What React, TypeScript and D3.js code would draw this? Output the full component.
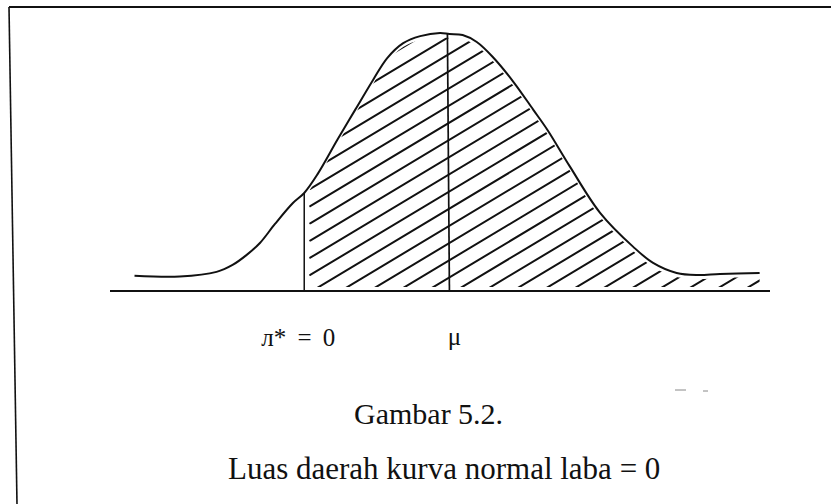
import React from "react";
import * as d3 from "d3";

// Standardised position (z) and relative height of the drawn normal curve
const curveZ = [-3.34, -2.86, -2.47, -2.3, -2.15, -2.01, -1.85, -1.66, -1.54, -1.4, -1.19, -1.0, -0.81, -0.66, -0.49, -0.31, -0.1, 0.0, 0.14, 0.29, 0.46, 0.68, 0.89, 1.04, 1.28, 1.6, 1.95, 2.16, 2.41, 2.63, 2.87, 3.29];
const curveH = [0.059, 0.056, 0.074, 0.101, 0.14, 0.186, 0.26, 0.341, 0.38, 0.452, 0.585, 0.702, 0.818, 0.903, 0.961, 0.988, 1.0, 0.996, 0.992, 0.965, 0.907, 0.81, 0.702, 0.624, 0.481, 0.302, 0.171, 0.109, 0.07, 0.062, 0.066, 0.07];

// Break-even point (profit = 0) and the mean
const cutZ = -1.54;
const meanZ = 0;

const cutLabel = "л* = 0";
const meanLabel = "μ";
const captionTitle = "Gambar 5.2.";
const captionText = "Luas daerah kurva normal laba = 0";

const W = 831;
const H = 504;
const FONT = "'Liberation Serif', 'Times New Roman', serif";

export default function App() {
  const x = d3.scaleLinear().domain([-3.6, 3.4]).range([110, 770]);
  const y = d3.scaleLinear().domain([0, 1]).range([291, 33]);

  const pts = curveZ.map((z, i) => ({ z, h: curveH[i] }));
  const line = d3
    .line<{ z: number; h: number }>()
    .x((d) => x(d.z))
    .y((d) => y(d.h))
    .curve(d3.curveCatmullRom.alpha(0.5));

  const cutH = pts.find((p) => p.z === cutZ)!.h;
  const meanH = pts.find((p) => p.z === meanZ)!.h;

  // shaded region right of the break-even point, inset slightly from its edges
  const shaded = pts.filter((p) => p.z >= cutZ - 0.2);
  const clipArea = d3
    .area<{ z: number; h: number }>()
    .x((d) => x(d.z))
    .y0(() => y(0) - 4)
    .y1((d) => y(d.h) + 4)
    .curve(d3.curveCatmullRom.alpha(0.5));

  // diagonal hatching
  const slope = 0.6;
  const step = 17.2;
  const refX = x(meanZ);
  const hatch: { x1: number; y1: number; x2: number; y2: number }[] = [];
  for (let k = -30; k < 40; k++) {
    const yAtRef = 157 + step * k;
    const x1 = x(cutZ) + 6;
    const x2 = x(3.4);
    hatch.push({
      x1,
      y1: yAtRef + slope * (refX - x1),
      x2,
      y2: yAtRef - slope * (x2 - refX),
    });
  }

  return (
    <svg
      width={W}
      height={H}
      style={{ position: "absolute", left: 0, top: 0, background: "#fff" }}
    >
      <defs>
        <clipPath id="shade-clip">
          <path d={clipArea(shaded) ?? ""} />
        </clipPath>
      </defs>

      {/* frame */}
      <line x1={9} y1={7} x2={W} y2={7} stroke="#111" strokeWidth={2.2} />
      <line x1={9} y1={7} x2={17} y2={H} stroke="#111" strokeWidth={1.6} />

      {/* hatching */}
      <g clipPath="url(#shade-clip)">
        {hatch.map((l, i) => (
          <line
            key={i}
            x1={l.x1}
            y1={l.y1}
            x2={l.x2}
            y2={l.y2}
            stroke="#111"
            strokeWidth={2}
            strokeLinecap="round"
          />
        ))}
      </g>

      {/* axis */}
      <line x1={x(-3.6)} y1={y(0)} x2={x(3.4)} y2={y(0)} stroke="#111" strokeWidth={2.2} />

      {/* normal curve */}
      <path d={line(pts) ?? ""} fill="none" stroke="#111" strokeWidth={2} />

      {/* break-even and mean markers */}
      <line x1={x(cutZ)} y1={y(0)} x2={x(cutZ)} y2={y(cutH)} stroke="#111" strokeWidth={1.5} />
      <line x1={x(meanZ)} y1={y(0)} x2={x(meanZ) - 2} y2={y(meanH)} stroke="#111" strokeWidth={1.7} />

      {/* axis labels */}
      <text
        x={x(cutZ) - 6}
        y={346}
        textAnchor="middle"
        fontFamily={FONT}
        fontSize={25}
        wordSpacing={5}
        fill="#111"
      >
        {cutLabel}
      </text>
      <text x={x(meanZ) + 5} y={345} textAnchor="middle" fontFamily={FONT} fontSize={25} fill="#111">
        {meanLabel}
      </text>

      {/* caption */}
      <text x={354} y={424} fontFamily={FONT} fontSize={30} fill="#111">
        {captionTitle}
      </text>
      <text x={228} y={479} fontFamily={FONT} fontSize={31} fill="#111">
        {captionText}
      </text>

      {/* small marks right of the caption */}
      <line x1={675} y1={390} x2={686} y2={390} stroke="#888" strokeWidth={1} />
      <line x1={703} y1={391} x2={708} y2={391} stroke="#888" strokeWidth={1} />
    </svg>
  );
}
